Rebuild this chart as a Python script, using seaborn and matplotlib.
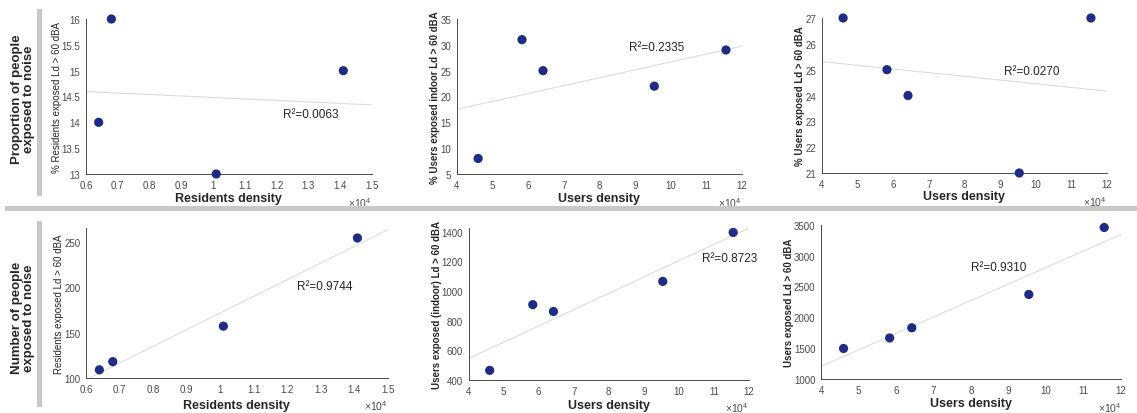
import numpy as np
import pandas as pd
import matplotlib
matplotlib.use("Agg")
import matplotlib.pyplot as plt
import seaborn as sns
from matplotlib.patches import Rectangle

# residents / users density (people per km2)
res_density = [6400, 6800, 10100, 14100]
usr_density = [46000, 58300, 64200, 95400, 115500]

# top row: share of people exposed (%)
pct_res = [14, 16, 13, 15]
pct_usr_indoor = [8, 31, 25, 22, 29]
pct_usr = [27, 25, 24, 21, 27]

# bottom row: number of people exposed
num_res = [109, 118, 157, 254]
num_usr_indoor = [465, 908, 862, 1065, 1395]
num_usr = [1495, 1665, 1830, 2370, 3455]

r2_labels = ["R²=0.0063", "R²=0.2335", "R²=0.0270",
             "R²=0.9744", "R²=0.8723", "R²=0.9310"]

sns.set_style("white")
plt.rcParams["font.family"] = ["Liberation Sans", "DejaVu Sans"]
plt.rcParams["mathtext.fontset"] = "custom"
plt.rcParams["mathtext.rm"] = "Liberation Sans"
plt.rcParams["mathtext.it"] = "Liberation Sans"

DOT = "#1f2c85"
FIT = "#dcdcdc"
BAR = "#c8c8c8"
TICK = "#4a4a4a"

fig = plt.figure(figsize=(11.37, 4.14), dpi=100)

panels = [
    # x, y, ylabel, xlabel, rect, xlim, xticks, ylim, yticks, r2pos, ylabel weight, xlabel pad
    (res_density, pct_res, "% Residents exposed Ld > 60 dBA", "Residents density",
     [0.0756, 0.5773, 0.2515, 0.3744], (0.6, 1.5), np.arange(0.6, 1.51, 0.1),
     (13, 16), np.arange(13, 16.01, 0.5), (1.22, 14.17), "normal", 2),
    (usr_density, pct_usr_indoor, "% Users exposed indoor Ld > 60 dBA", "Users density",
     [0.4017, 0.5773, 0.2509, 0.3744], (4, 12), np.arange(4, 12.1, 1),
     (5, 35), np.arange(5, 36, 5), (8.83, 29.5), "bold", 1.5),
    (usr_density, pct_usr, "% Users exposed Ld > 60 dBA", "Users density",
     [0.7227, 0.5797, 0.2509, 0.3744], (4, 12), np.arange(4, 12.1, 1),
     (21, 27), np.arange(21, 27.1, 1), (9.11, 24.94), "bold", 1),
    (res_density, num_res, "Residents exposed Ld > 60 dBA", "Residents density",
     [0.0756, 0.0845, 0.2653, 0.3624], (0.6, 1.5), np.arange(0.6, 1.51, 0.1),
     (100, 265), np.arange(100, 251, 50), (1.229, 201.5), "normal", 4),
    (usr_density, num_usr_indoor, "Users exposed (indoor) Ld > 60 dBA", "Users density",
     [0.4122, 0.0797, 0.2465, 0.3672], (4, 12), np.arange(4, 12.1, 1),
     (400, 1425), np.arange(400, 1401, 200), (10.65, 1220), "bold", 2.5),
    (usr_density, num_usr, "Users exposed Ld > 60 dBA", "Users density",
     [0.7221, 0.0821, 0.2639, 0.3727], (4, 12), np.arange(4, 12.1, 1),
     (1000, 3500), np.arange(1000, 3501, 500), (7.99, 2810), "bold", 1.5),
]

for i, (xv, yv, ylab, xlab, rect, xlim, xt, ylim, yt, r2pos, yw, xpad) in enumerate(panels):
    ax = fig.add_axes(rect)
    df = pd.DataFrame({"x": np.array(xv) / 1e4, "y": yv})
    ax.set_xlim(*xlim)
    ax.set_ylim(*ylim)
    sns.regplot(data=df, x="x", y="y", ax=ax, ci=None, truncate=False,
                scatter_kws=dict(s=44, color=DOT, alpha=1, edgecolor="none",
                                 zorder=3, clip_on=False),
                line_kws=dict(color=FIT, lw=0.8, zorder=2))
    ax.set_xlim(*xlim)
    ax.set_ylim(*ylim)
    ax.set_xticks(xt)
    ax.set_yticks(yt)
    ax.set_xticklabels([f"{v:g}" for v in xt])
    ax.set_yticklabels([f"{v:g}" for v in yt])
    ax.tick_params(axis="both", direction="in", length=3, width=0.6,
                   labelsize=7, colors=TICK, pad=4)
    for s in ["top", "right"]:
        ax.spines[s].set_visible(False)
    for s in ["left", "bottom"]:
        ax.spines[s].set_color(TICK)
        ax.spines[s].set_linewidth(0.7)
    ax.set_xlabel(xlab, fontsize=9, fontweight="bold", labelpad=xpad)
    ax.set_ylabel(ylab, fontsize=7, fontweight=yw, labelpad=0)
    ax.text(r2pos[0], r2pos[1], r2_labels[i], fontsize=8.5, va="center", ha="left")
    ax.text(1.0, -0.135, r"$\times10^{4}$", transform=ax.transAxes, fontsize=7.5,
            color=TICK, ha="right", va="top")

# row titles
fig.text(0.020, 0.76, "Proportion of people\nexposed to noise", rotation=90,
         fontsize=9.5, fontweight="bold", ha="center", va="center", linespacing=1.0)
fig.text(0.020, 0.232, "Number of people\nexposed to noise", rotation=90,
         fontsize=9.5, fontweight="bold", ha="center", va="center", linespacing=1.0)

# separators
fig.add_artist(Rectangle((0.004, 0.4879), 0.996, 0.0121, transform=fig.transFigure,
                         color=BAR, lw=0))
fig.add_artist(Rectangle((0.0325, 0.524), 0.0044, 0.452, transform=fig.transFigure,
                         color=BAR, lw=0))
fig.add_artist(Rectangle((0.0325, 0.0145), 0.0044, 0.4493, transform=fig.transFigure,
                         color=BAR, lw=0))

fig.savefig("out.png", dpi=100)
